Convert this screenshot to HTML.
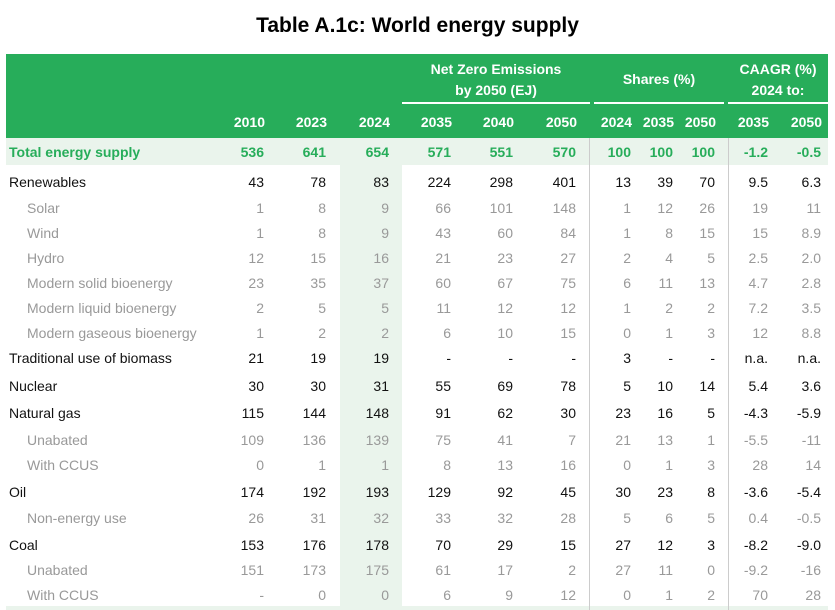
<!DOCTYPE html>
<html><head><meta charset="utf-8"><style>
body{margin:0;width:835px;height:610px;background:#fff;font-family:"Liberation Sans",sans-serif;position:relative;overflow:hidden}
.a{position:absolute;white-space:nowrap}
.t{font-size:14px;line-height:20px}
</style></head><body>
<div class="a" style="left:0;width:835px;top:14px;text-align:center;font-weight:bold;font-size:21px">Table A.1c: World energy supply</div>
<div class="a" style="left:6px;top:54px;width:822px;height:84px;background:#27ad5a"></div>
<div class="a" style="left:6px;top:138px;width:822px;height:27px;background:#eaf4ec"></div>
<div class="a" style="left:340px;top:165px;width:62px;height:445px;background:#eaf4ec"></div>
<div class="a" style="left:6px;top:606px;width:822px;height:4px;background:#eaf4ec"></div>
<div class="a" style="left:589px;top:138px;width:1px;height:472px;background:#ccc"></div>
<div class="a" style="left:728px;top:138px;width:1px;height:472px;background:#ccc"></div>
<div class="a" style="left:402px;top:102px;width:188px;height:2px;background:#fff"></div>
<div class="a" style="left:594px;top:102px;width:130px;height:2px;background:#fff"></div>
<div class="a" style="left:728px;top:102px;width:100px;height:2px;background:#fff"></div>
<div class="a t" style="left:402px;width:188px;top:59px;text-align:center;color:#fff;font-weight:bold;line-height:21px">Net Zero Emissions<br>by 2050 (EJ)</div>
<div class="a t" style="left:594px;width:130px;top:69px;text-align:center;color:#fff;font-weight:bold">Shares (%)</div>
<div class="a t" style="left:728px;width:100px;top:59px;text-align:center;color:#fff;font-weight:bold;line-height:21px">CAAGR (%)<br>2024 to:</div>
<div id="g"></div>
<script>
const years=["2010","2023","2024","2035","2040","2050","2024","2035","2050","2035","2050"];
const labels=["Total energy supply","Renewables","Solar","Wind","Hydro","Modern solid bioenergy","Modern liquid bioenergy","Modern gaseous bioenergy","Traditional use of biomass","Nuclear","Natural gas","Unabated","With CCUS","Oil","Non-energy use","Coal","Unabated","With CCUS"];
const levels=[0,1,2,2,2,2,2,2,1,1,1,2,2,1,2,1,2,2];
const values=[
["536","641","654","571","551","570","100","100","100","-1.2","-0.5"],
["43","78","83","224","298","401","13","39","70","9.5","6.3"],
["1","8","9","66","101","148","1","12","26","19","11"],
["1","8","9","43","60","84","1","8","15","15","8.9"],
["12","15","16","21","23","27","2","4","5","2.5","2.0"],
["23","35","37","60","67","75","6","11","13","4.7","2.8"],
["2","5","5","11","12","12","1","2","2","7.2","3.5"],
["1","2","2","6","10","15","0","1","3","12","8.8"],
["21","19","19","-","-","-","3","-","-","n.a.","n.a."],
["30","30","31","55","69","78","5","10","14","5.4","3.6"],
["115","144","148","91","62","30","23","16","5","-4.3","-5.9"],
["109","136","139","75","41","7","21","13","1","-5.5","-11"],
["0","1","1","8","13","16","0","1","3","28","14"],
["174","192","193","129","92","45","30","23","8","-3.6","-5.4"],
["26","31","32","33","32","28","5","6","5","0.4","-0.5"],
["153","176","178","70","29","15","27","12","3","-8.2","-9.0"],
["151","173","175","61","17","2","27","11","0","-9.2","-16"],
["-","0","0","6","9","12","0","1","2","70","28"]];
const colRight=[264,326,389,451,513,576,631,673,715,768,821];
const rowTop=[142,172,198,223,248,273,298,323,348,376,403,430,455,482,508,535,560,585];
const g=document.getElementById('g');
function mk(txt,l,r,top,style,name){const d=document.createElement('div');d.className='a t';d.textContent=txt;
if(r!==null){d.style.right=(835-r)+'px';}else{d.style.left=l+'px';}
d.style.top=top+'px';Object.assign(d.style,style);


g.appendChild(d);}
years.forEach((y,i)=>mk(y,0,colRight[i]+1,112,{color:'#fff',fontWeight:'bold'},'col-header-'+i));
labels.forEach((lab,r)=>{const lv=levels[r];
const st=lv===0?{color:'#27ad5a',fontWeight:'bold'}:lv===1?{color:'#111'}:{color:'#999'};
mk(lab,lv===2?27:9,null,rowTop[r],st,'row-label-'+r);
values[r].forEach((v,c)=>mk(v,0,colRight[c],rowTop[r],st,'cell-'+r+'-'+c));});
</script>
</body></html>
